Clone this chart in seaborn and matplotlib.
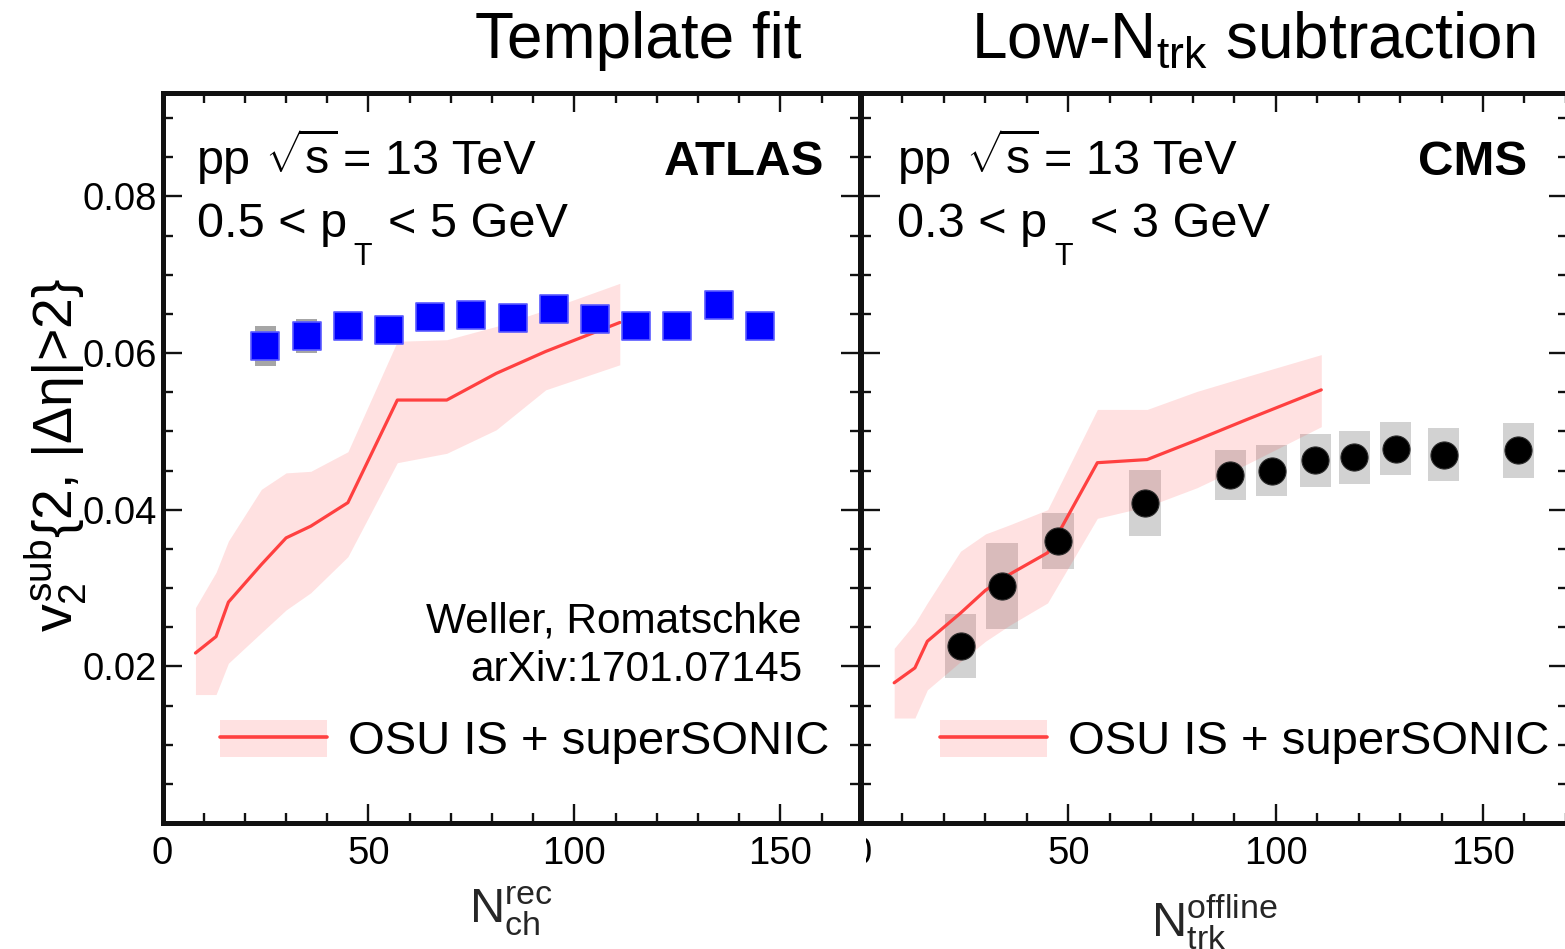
import matplotlib
matplotlib.use("Agg")
import matplotlib.pyplot as plt
import seaborn as sns
from matplotlib.patches import Patch
from matplotlib.lines import Line2D
from matplotlib.ticker import MultipleLocator, FixedLocator, StrMethodFormatter
from matplotlib.transforms import Bbox, TransformedBbox

# ATLAS, template fit, 0.5 < pT < 5 GeV
atlas_nch = [25, 35, 45, 55, 65, 75, 85, 95, 105, 115, 125, 135, 145]
atlas_v2 = [0.0609, 0.0622, 0.0634, 0.0629, 0.0646, 0.0649, 0.0645,
            0.0656, 0.0643, 0.0634, 0.0634, 0.0661, 0.0634]
atlas_sys = [0.0026, 0.0022, 0.0012, 0.0010, 0.0010, 0.0010, 0.0010,
             0.0010, 0.0010, 0.0010, 0.0010, 0.0010, 0.0010]

# CMS, low-Ntrk subtraction, 0.3 < pT < 3 GeV
cms_ntrk = [24, 34, 47.5, 68.5, 89, 99, 109.5, 119, 129, 140.5, 158.5]
cms_v2 = [0.0226, 0.0303, 0.0360, 0.0409, 0.0444, 0.0450, 0.0463,
          0.0467, 0.0478, 0.0470, 0.0476]
cms_sys = [0.0041, 0.0055, 0.0036, 0.0042, 0.0032, 0.0032, 0.0034,
           0.0034, 0.0034, 0.0034, 0.0035]

# OSU IS + superSONIC hydro calculation (central value and uncertainty band)
model_n = [8, 13, 16, 24, 30, 36, 45, 57, 69, 81, 93, 111]
model_atlas_mid = [0.0217, 0.0238, 0.0282, 0.0330, 0.0364, 0.0379, 0.0409,
                   0.0540, 0.0540, 0.0574, 0.0602, 0.0639]
model_atlas_lo = [0.0164, 0.0164, 0.0204, 0.0243, 0.0272, 0.0294, 0.0340,
                  0.0460, 0.0472, 0.0502, 0.0553, 0.0585]
model_atlas_hi = [0.0275, 0.0320, 0.0360, 0.0426, 0.0447, 0.0449, 0.0474,
                  0.0615, 0.0617, 0.0634, 0.0655, 0.0689]
model_cms_mid = [0.0179, 0.0198, 0.0232, 0.0268, 0.0297, 0.0318, 0.0345,
                 0.0460, 0.0464, 0.0489, 0.0515, 0.0553]
model_cms_lo = [0.0134, 0.0134, 0.0170, 0.0206, 0.0232, 0.0253, 0.0281,
                0.0389, 0.0404, 0.0428, 0.0458, 0.0506]
model_cms_hi = [0.0223, 0.0255, 0.0281, 0.0347, 0.0369, 0.0381, 0.0400,
                0.0528, 0.0528, 0.0551, 0.0570, 0.0598]

xticks = [0, 50, 100, 150]
yticks = [0.02, 0.04, 0.06, 0.08]

sns.set_theme(style="ticks")
plt.rcParams.update({
    "font.family": ["Liberation Sans", "DejaVu Sans"],
    "mathtext.fontset": "custom",
    "mathtext.rm": "Liberation Sans",
    "mathtext.it": "Liberation Sans",
    "mathtext.sf": "Liberation Sans",
    "mathtext.bf": "Liberation Sans:bold",
    "axes.facecolor": "white",
    "figure.facecolor": "white",
    "text.color": "black",
    "xtick.color": "black",
    "ytick.color": "black",
})

W, H = 1565, 949
fig = plt.figure(figsize=(W / 100, H / 100), dpi=100)


def fpos(px, py):
    return px / W, 1 - py / H


ax1 = fig.add_axes([162.5 / W, 126 / H, 697.5 / W, 730 / H])
ax2 = fig.add_axes([861 / W, 126 / H, 707 / W, 730 / H])

band_color = "#ff4f4f"
line_color = "#ff4040"


def draw_model(ax, lo, mid, hi):
    ax.fill_between(model_n, lo, hi, color=band_color, alpha=0.17, lw=0, zorder=2)
    sns.lineplot(x=model_n, y=mid, ax=ax, color=line_color, lw=2.3,
                 zorder=3, legend=False)


# left panel: ATLAS
ax1.bar(atlas_nch, [2 * e for e in atlas_sys],
        bottom=[v - e for v, e in zip(atlas_v2, atlas_sys)],
        width=5, color="#a6a6a6", lw=0, zorder=1)
draw_model(ax1, model_atlas_lo, model_atlas_mid, model_atlas_hi)
sns.scatterplot(x=atlas_nch, y=atlas_v2, ax=ax1, marker="s", s=380,
                color="#0000ff", edgecolor="#5a5aff", linewidth=1.2, zorder=4)

# right panel: CMS
ax2.bar(cms_ntrk, [2 * e for e in cms_sys],
        bottom=[v - e for v, e in zip(cms_v2, cms_sys)],
        width=7.5, color="#d2d2d2", lw=0, zorder=1)
draw_model(ax2, model_cms_lo, model_cms_mid, model_cms_hi)
sns.scatterplot(x=cms_ntrk, y=cms_v2, ax=ax2, marker="o", s=380,
                color="black", edgecolor="#2a2a2a", linewidth=0.8, zorder=4)

for ax, xmax in ((ax1, 169.3), (ax2, 170.5)):
    ax.set_xlim(0, xmax)
    ax.set_ylim(0, 0.0932)
    ax.xaxis.set_major_locator(FixedLocator(xticks))
    ax.xaxis.set_minor_locator(MultipleLocator(10))
    ax.yaxis.set_major_locator(FixedLocator(yticks))
    ax.yaxis.set_minor_locator(MultipleLocator(0.005))
    ax.yaxis.set_major_formatter(StrMethodFormatter("{x:.2f}"))
    ax.tick_params(which="both", direction="in", top=True, right=True,
                   bottom=True, left=True, color="#111111")
    ax.tick_params(which="major", length=14, width=1.7, labelsize=27.5)
    ax.tick_params(axis="x", which="major", pad=9)
    ax.tick_params(axis="y", which="major", pad=4)
    ax.tick_params(which="minor", length=7, width=1.7)
    for sp in ax.spines.values():
        sp.set_linewidth(3.6)
        sp.set_color("#111111")
    ax.set_ylabel("")
    ax.grid(False)

ax2.tick_params(labelleft=False)

# axis titles
ax1.set_xlabel(r"N$_{\mathrm{ch}}^{\mathrm{rec}}$", fontsize=35, va="baseline")
ax1.xaxis.set_label_coords(0.5, (823 - 923) / 730)
ax2.set_xlabel(r"N$_{\mathrm{trk}}^{\mathrm{offline}}$", fontsize=35, va="baseline")
ax2.xaxis.set_label_coords(0.5, (823 - 937) / 730)
fig.text(*fpos(56, 455), r"$v_{2}^{\mathrm{sub}}$" + "{2, |Δη|>2}",
         rotation=90, ha="center", va="center", fontsize=40)

# panel headings
fig.text(*fpos(638.5, 58), "Template fit", ha="center", va="baseline", fontsize=46)
fig.text(*fpos(1253, 58), r"Low-N$_{\mathrm{trk}}$ subtraction",
         ha="center", va="baseline", fontsize=46)

# panel annotations
for x0, rng, ptsub, rest, exp_name, exp_right in (
        (197, "0.5 < p", 353, "< 5 GeV", "ATLAS", 824),
        (897.5, "0.3 < p", 1054.7, "< 3 GeV", "CMS", 1527)):
    fig.text(*fpos(x0, 174), "pp", ha="left", va="baseline", fontsize=35)
    fig.text(*fpos(x0 + 68, 174), r"$\sqrt{\mathrm{s}}$",
             ha="left", va="baseline", fontsize=35)
    fig.text(*fpos(x0 + 146, 174), "= 13 TeV", ha="left", va="baseline", fontsize=35)
    fig.text(*fpos(x0, 237), rng, ha="left", va="baseline", fontsize=35)
    fig.text(*fpos(ptsub, 265), "T", ha="left", va="baseline", fontsize=22)
    fig.text(*fpos(ptsub + 35, 237), rest, ha="left", va="baseline", fontsize=35)
    fig.text(*fpos(exp_right, 175), exp_name, ha="right", va="baseline",
             fontsize=35.5, fontweight="bold")

fig.text(*fpos(802, 633), "Weller, Romatschke", ha="right", va="baseline", fontsize=30.5)
fig.text(*fpos(802, 681), "arXiv:1701.07145", ha="right", va="baseline", fontsize=30.5)

# legends
for ax, fx in ((ax1, (220 - 162.5) / 697.5), (ax2, (940 - 861) / 707)):
    handle = (Patch(facecolor=band_color, alpha=0.17, lw=0),
              Line2D([], [], color=line_color, lw=2.6))
    ax.legend([handle], ["OSU IS + superSONIC"], loc="center left",
              bbox_to_anchor=(fx, (823 - 742) / 730), frameon=False,
              fontsize=34, handlelength=2.27, handleheight=0.83,
              handletextpad=0.43, borderpad=0, borderaxespad=0)

# the right panel's zero label is partly hidden behind the left panel edge
clip = TransformedBbox(Bbox.from_extents(866 / W, 0, 1, 1), fig.transFigure)
zero_label = ax2.xaxis.get_major_ticks()[0].label1
zero_label.set_clip_box(clip)
zero_label.set_clip_on(True)

fig.savefig("out.png", dpi=100)
